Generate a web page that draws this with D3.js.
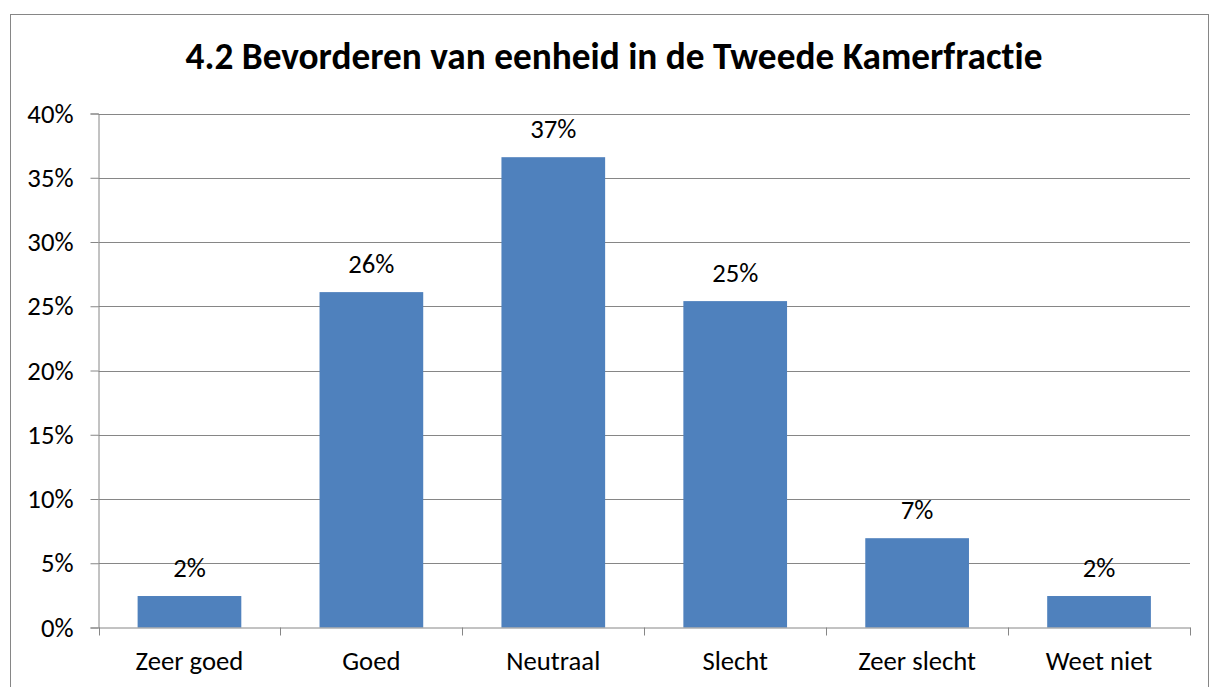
<!DOCTYPE html>
<html><head><meta charset="utf-8">
<script src="https://cdn.jsdelivr.net/npm/d3@7"></script>
<style>html,body{margin:0;padding:0;background:#fff;}svg{display:block;}text{font-variant-ligatures:none;}</style>
</head><body>
<script>
const title = "4.2 Bevorderen van eenheid in de Tweede Kamerfractie";
const categories = ["Zeer goed","Goed","Neutraal","Slecht","Zeer slecht","Weet niet"];
const values = [0.0245, 0.261, 0.366, 0.254, 0.0695, 0.0245];
const yTicks = [0,0.05,0.10,0.15,0.20,0.25,0.30,0.35,0.40];

const W = 1209, H = 687;
const svg = d3.select("body").append("svg").attr("width", W).attr("height", H);
const font = "Carlito, 'Open Sans', sans-serif";
const fs = 26.7;

// outer frame
svg.append("rect").attr("x", 10.5).attr("y", 14.5).attr("width", 1198).attr("height", 700)
  .attr("fill", "none").attr("stroke", "#868686").attr("stroke-width", 1);

const m = {left: 98.5, right: 1190, top: 113.5, bottom: 627.5};
const x = d3.scaleBand().domain(categories).range([m.left, m.right]).paddingInner(0.43).paddingOuter(0.215);
const xb = d3.scaleBand().domain(categories).range([m.left, m.right]);
const y = d3.scaleLinear().domain([0, 0.4]).range([m.bottom, m.top]);

// gridlines
svg.append("g").selectAll("line").data(yTicks.slice(1)).join("line")
  .attr("x1", m.left).attr("x2", m.right)
  .attr("y1", d => Math.round(y(d)) + 0.5).attr("y2", d => Math.round(y(d)) + 0.5)
  .attr("stroke", "#868686").attr("stroke-width", 1);

// y axis
const yAxis = d3.axisLeft(y).tickValues(yTicks).tickFormat(d3.format(".0%")).tickSizeOuter(0).tickSize(8).tickPadding(17);
const ga = svg.append("g").attr("transform", `translate(${m.left},0)`).call(yAxis);
ga.select(".domain").attr("stroke", "#868686");
ga.selectAll(".tick line").attr("stroke", "#868686");
ga.selectAll(".tick text").attr("font-family", font).attr("font-size", fs).attr("fill", "#000");

// bars
svg.append("g").selectAll("rect").data(categories).join("rect")
  .attr("x", d => x(d)).attr("width", x.bandwidth())
  .attr("y", (d, i) => y(values[i])).attr("height", (d, i) => y(0) - y(values[i]))
  .attr("fill", "#4F81BD");

// x axis
const xAxis = d3.axisBottom(xb).tickSize(0).tickPadding(24).tickSizeOuter(0);
const gx = svg.append("g").attr("transform", `translate(0,${m.bottom})`).call(xAxis);
gx.select(".domain").attr("stroke", "#868686");
gx.selectAll(".tick text").attr("font-family", font).attr("font-size", fs).attr("fill", "#000");
// category separator ticks
const seps = categories.map(c => xb(c)).concat([m.right]);
svg.append("g").selectAll("line").data(seps).join("line")
  .attr("x1", d => Math.round(d) + 0.5).attr("x2", d => Math.round(d) + 0.5)
  .attr("y1", m.bottom).attr("y2", m.bottom + 8)
  .attr("stroke", "#868686");

// value labels
svg.append("g").selectAll("text").data(categories).join("text")
  .attr("x", d => x(d) + x.bandwidth() / 2)
  .attr("y", (d, i) => y(values[i]) - 19)
  .attr("text-anchor", "middle")
  .attr("font-family", font).attr("font-size", fs).attr("fill", "#000")
  .text((d, i) => d3.format(".0%")(values[i]));

// title
svg.append("text").attr("x", 614).attr("y", 69).attr("text-anchor", "middle")
  .attr("font-family", font).attr("font-weight", "bold").attr("font-size", 37.3).attr("fill", "#000")
  .text(title);
</script>
</body></html>
